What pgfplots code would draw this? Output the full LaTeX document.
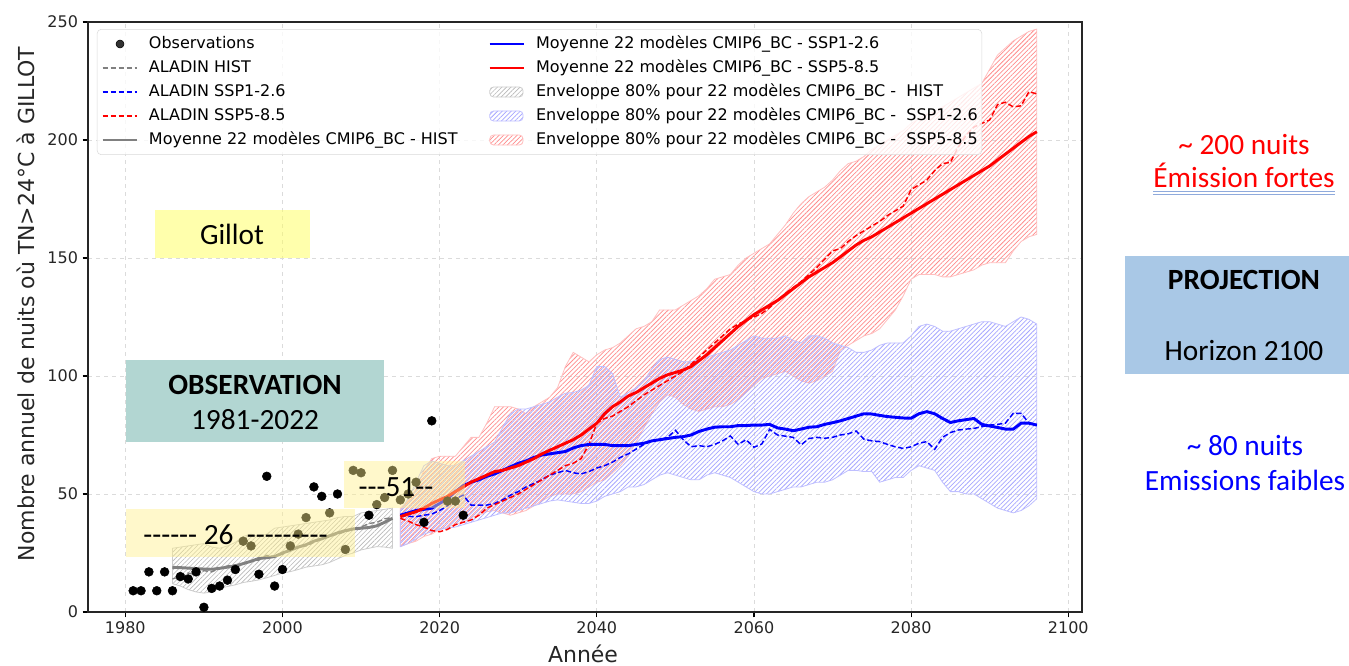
\documentclass[border=0pt]{standalone}
\usepackage{fontspec}
\setmainfont{DejaVu Sans}
\newfontfamily\calibri[Ligatures=TeXOff]{Carlito}
\usepackage{pgfplots}
\usepackage{pgfplotstable}
\pgfplotsset{compat=1.18}
\usepgfplotslibrary{fillbetween}
\usetikzlibrary{patterns.meta}

\definecolor{obsteal}{RGB}{178,214,210}
\definecolor{projblue}{RGB}{169,200,230}
\definecolor{boxyellow}{RGB}{255,240,140}
\definecolor{gillotyellow}{RGB}{255,255,90}
\definecolor{spellblue}{RGB}{143,170,220}

% historical run, 1986-2014
\pgfplotstableread{
yr   hm   hd   hu   hl
1986 18.9 14   27   12
1987 18.8 15   27.5 11
1988 18.6 16.5 28   9.5
1989 18.4 16   28.5 8.5
1990 18.2 17.5 29   8
1991 18.1 17   27.5 8.5
1992 18.5 18.5 27   10
1993 19   19.5 28   10.8
1994 19.5 20   29.5 11.5
1995 20.5 20.5 32   12.5
1996 21.5 21.5 33   13
1997 22.7 22   32   13.6
1998 23   24   33   14.5
1999 23.5 23.5 35.5 15.5
2000 25   24.5 36   16.5
2001 26.2 26   36.5 17.1
2002 27.5 27.5 37   18
2003 28.5 28   37.5 19
2004 30   29.5 38   19.5
2005 31   31   38.5 20
2006 32.3 32   39   21
2007 33.5 33   40   22.5
2008 34.5 34   40.5 24
2009 35.2 35   40.5 25
2010 35.5 36   42   26.3
2011 35.8 37.5 42.5 27
2012 36.5 38   43   27.7
2013 38   39.5 43.5 27.5
2014 39.7 40   44   27
}\hist

% scenarios, 2015-2096 (r = SSP5-8.5, b = SSP1-2.6)
\pgfplotstableread{
yr   rm    rd    ru  rl   bm   bd   bu   bl
2015 40.4  39.7  44  27.7 41   41   43   27.7
2016 41.5  38.5  47  29   42   40.5 48   29
2017 42.5  37    52  30   43   40.4 55   31
2018 44    36    60  32   43.5 41   62   33
2019 46    34.5  65  33   44   41.5 64   34
2020 47.5  34    66  35   46   43   63   35
2021 49    35    66  36   48   45   62   35.5
2022 51    37    66  37   51   48   62   36
2023 53    38    70  38   53.5 49.5 64   37
2024 55    39    74  40   55   45.3 66   38
2025 56.5  41    74  41   56   45.3 68   39
2026 58    44    80  42.5 57.5 45.3 70   40
2027 59.5  45.5  87  43   58.5 46   72   41
2028 60    47    87  42   60   47.5 78   42
2029 61    48.5  87  41   61.5 49.5 84   42
2030 62    50    86  42   63   51   86   43
2031 63.5  52    84  43   64   53   86   44
2032 65    54    87  45   65.5 54.5 87   45
2033 67    56    89  47   66.5 56   88   46
2034 68.5  58    91  49   67   58   89   47
2035 70    60    95  50   67.5 59   91   47.5
2036 71.5  62    104 50   68   60   92.7 47
2037 73    63    110 50   69.5 59   93   46.5
2038 75    65    108 51   70.5 58.5 94   46
2039 77.5  71    106 53   71   59.5 96   46
2040 80    80    109 55   71   61   104  47
2041 84    82    111 56   71   62   104  49
2042 87    83    112 59   70.5 63.5 101  50
2043 89    85    114 62   70.5 65.5 91   51
2044 91.5  87    117 66   70.5 67   93   53
2045 93    89.5  120 72   71   69   95   53
2046 95    92    121 78   71.5 71   98   54
2047 97    94    123 84   72.5 72.5 103  56
2048 99    96    128 89   73   73   107  58
2049 100.5 98    128 92   73.5 74   108  59
2050 101.5 100   128 91   74   77   107  58
2051 102.5 102   130 88   74.3 73   106  57
2052 104   105   132 86   75   70   106  56
2053 106.5 108   134 85   76.5 70.5 107  56
2054 109   111   137 86   77.5 70   108  58
2055 112   114   141 87   78.3 71   109  59
2056 115   117   142 87   78.5 72.5 110  58
2057 118   120   143 88   78.5 74.6 111  57
2058 121   122   147 90   79   71   113  55
2059 123.5 123.5 150 93   79   73   115  53
2060 126   125   152 96   79.2 69.8 117  51
2061 128   126.5 154 99   79.2 71.2 116  50
2062 130   129   156 100  79.5 77.4 116  50
2063 132   132   160 101  78   75   116  51
2064 134.5 135   164 102  77.5 74.5 117  52
2065 137   137.5 169 100  76.8 74   115  53
2066 139.5 140   173 98   77.5 70.8 114  53
2067 142   143   176 97   78.3 73.5 117  54
2068 144   146   178 98   78.5 74   117  55
2069 146   149.5 180 100  79.5 73.6 116  55
2070 148   153   183 102  80.2 74   114  56
2071 150.5 154   187 111  81   75   113  58
2072 153   157   190 113  82   75.5 112  60
2073 155.5 159.5 191 115  83   76.7 110  60
2074 157.5 161.5 193 117  84   73.2 110  59.5
2075 159   163.5 196 118  83.9 72.5 111  59.5
2076 161   165.5 198 120  83.3 72.2 113  55
2077 163   168   200 124  82.8 71   114  56
2078 165   170   202 128  82.5 70   114  57
2079 167   172   204 134  82.2 69.3 114  57
2080 169   179   207 141  82.1 70   117  60
2081 171   181   209 143  84   71.5 121  62
2082 173   183   211 143  84.9 72.2 122  61
2083 175   187   212 143  84   68.9 121  60
2084 177   190   214 142  82   74   119  55
2085 179   190.5 216 142  80.3 76   119  51
2086 181   197   218 143  81   77.1 120  51
2087 183   202   220 144  81.5 77.5 121  50
2088 185   205.5 222 145  82   77.8 122  50
2089 187   207   224 147  79.5 78.5 123  48
2090 189   208.5 230 148  78.8 79.2 123  46
2091 191.5 215   236 148  78.2 79.5 122  44
2092 194   216   239 148  77.5 80   121  43
2093 196.5 214   242 153  77.5 84.2 123  42
2094 199   214.5 244 157  80   84.2 125  43
2095 201.5 220.5 246 159  80   80   124  45
2096 203.5 219.5 247 160  79.2 79   122  48
}\ssp

\tikzset{
  henv/.style={draw=black!20, line width=0.6pt, pattern={Lines[angle=45,distance=2.4pt,line width=0.45pt]}, pattern color=black!28},
  renv/.style={draw=red!25, line width=0.6pt, pattern={Lines[angle=45,distance=2.4pt,line width=0.55pt]}, pattern color=red!45},
  benv/.style={draw=blue!25, line width=0.6pt, pattern={Lines[angle=45,distance=2.4pt,xshift=1.2pt,line width=0.55pt]}, pattern color=blue!35},
}

\begin{document}
\begin{tikzpicture}
\begin{axis}[
  at={(66pt,40.5pt)}, anchor=south west,
  scale only axis, width=745.5pt, height=442.5pt,
  xmin=1975.25, xmax=2101.75, ymin=0, ymax=250,
  xtick={1980,2000,...,2100}, ytick={0,50,...,250},
  tick align=outside, xtick pos=bottom, ytick pos=left,
  major tick length=4pt,
  every tick/.style={black, line width=0.9pt},
  axis line style={line width=1pt, black!85},
  grid=major, grid style={dashed, black!14, line width=0.6pt},
  /pgf/number format/1000 sep={},
  /pgf/number format/assume math mode=true,
  tick label style={font=\fontsize{12}{14}\selectfont, black!85},
  xlabel={Année},
  ylabel={Nombre annuel de nuits où TN>24°C à GILLOT},
  label style={font=\fontsize{16.5}{19}\selectfont, black!85},
  xlabel style={at={(rel axis cs:0.498,-0.056)}, anchor=north, inner sep=0pt},
  ylabel style={at={(rel axis cs:-0.0625,0.522)}, anchor=center, inner sep=0pt},
  legend columns=2, legend cell align=left,
  legend style={at={(rel axis cs:0.009,0.988)}, anchor=north west,
    draw=black!15, rounded corners=3pt, fill=white, fill opacity=0.8, text opacity=1,
    font=\fontsize{12}{14}\selectfont, inner xsep=3pt, inner ysep=5pt,
    row sep=6pt, nodes={inner sep=0pt, text height=9pt, text depth=3pt},
    /tikz/every even column/.append style={column sep=23pt}},
]
% envelopes
\addplot[name path=hu, draw=none, forget plot] table[x=yr, y=hu] {\hist};
\addplot[name path=hl, draw=none, forget plot] table[x=yr, y=hl] {\hist};
\addplot[henv, forget plot] fill between[of=hu and hl];
\addplot[name path=ru, draw=none, forget plot] table[x=yr, y=ru] {\ssp};
\addplot[name path=rl, draw=none, forget plot] table[x=yr, y=rl] {\ssp};
\addplot[renv, forget plot] fill between[of=ru and rl];
\addplot[name path=bu, draw=none, forget plot] table[x=yr, y=bu] {\ssp};
\addplot[name path=bl, draw=none, forget plot] table[x=yr, y=bl] {\ssp};
\addplot[benv, forget plot] fill between[of=bu and bl];

% ALADIN runs
\addplot[black!50, line width=1pt, dash pattern=on 4pt off 2pt, forget plot] table[x=yr, y=hd] {\hist};
\addplot[blue, line width=1.1pt, dash pattern=on 4pt off 2pt, forget plot] table[x=yr, y=bd] {\ssp};
\addplot[red, line width=1.1pt, dash pattern=on 4pt off 2pt, forget plot] table[x=yr, y=rd] {\ssp};

% multi-model means
\addplot[black!50, line width=2.2pt, forget plot] table[x=yr, y=hm] {\hist};
\addplot[blue, line width=2.2pt, forget plot] table[x=yr, y=bm] {\ssp};
\addplot[red, line width=2.2pt, forget plot] table[x=yr, y=rm] {\ssp};

% observations
\addplot[only marks, mark=*, mark size=3.3pt, black, forget plot] coordinates {
(1981,9)(1982,9)(1983,17)(1984,9)(1985,17)(1986,9)(1987,15)(1988,14)(1989,17)(1990,2)
(1991,10)(1992,11)(1993,13.5)(1994,18)(1995,30)(1996,28)(1997,16)(1998,57.5)(1999,11)(2000,18)
(2001,28)(2002,33)(2003,40)(2004,53)(2005,49)(2006,42)(2007,50)(2008,26.5)(2009,60)(2010,59)
(2011,41)(2012,45.5)(2013,48.5)(2014,60)(2015,47.5)(2016,50)(2017,55)(2018,38)(2019,81)
(2021,47)(2022,47)(2023,41)};

% legend, row by row (matplotlib fills it column by column)
\addlegendimage{legend image code/.code={\fill[black] (13pt,0) circle (3pt); \path (0,0) (34.5pt,0);}}
\addlegendentry{Observations}
\addlegendimage{legend image code/.code={\draw[blue, line width=2.2pt] (0,0) -- (26pt,0); \path (34.5pt,0);}}
\addlegendentry{Moyenne 22 modèles CMIP6\_BC - SSP1-2.6}
\addlegendimage{legend image code/.code={\draw[black!50, line width=1pt, dash pattern=on 4pt off 2pt] (0,0) -- (26pt,0); \path (34.5pt,0);}}
\addlegendentry{ALADIN HIST}
\addlegendimage{legend image code/.code={\draw[red, line width=2.2pt] (0,0) -- (26pt,0); \path (34.5pt,0);}}
\addlegendentry{Moyenne 22 modèles CMIP6\_BC - SSP5-8.5}
\addlegendimage{legend image code/.code={\draw[blue, line width=1.1pt, dash pattern=on 4pt off 2pt] (0,0) -- (26pt,0); \path (34.5pt,0);}}
\addlegendentry{ALADIN SSP1-2.6}
\addlegendimage{legend image code/.code={\draw[henv] (0,-3.8pt) rectangle (25pt,3.8pt); \path (34.5pt,0);}}
\addlegendentry{Enveloppe 80\% pour 22 modèles CMIP6\_BC -\ \ HIST}
\addlegendimage{legend image code/.code={\draw[red, line width=1.1pt, dash pattern=on 4pt off 2pt] (0,0) -- (26pt,0); \path (34.5pt,0);}}
\addlegendentry{ALADIN SSP5-8.5}
\addlegendimage{legend image code/.code={\draw[benv] (0,-3.8pt) rectangle (25pt,3.8pt); \path (34.5pt,0);}}
\addlegendentry{Enveloppe 80\% pour 22 modèles CMIP6\_BC -\ \ SSP1-2.6}
\addlegendimage{legend image code/.code={\draw[black!50, line width=2.2pt] (0,0) -- (26pt,0); \path (34.5pt,0);}}
\addlegendentry{Moyenne 22 modèles CMIP6\_BC - HIST}
\addlegendimage{legend image code/.code={\draw[renv] (0,-3.8pt) rectangle (25pt,3.8pt); \path (34.5pt,0);}}
\addlegendentry{Enveloppe 80\% pour 22 modèles CMIP6\_BC -\ \ SSP5-8.5}
\end{axis}

% slide annotations, placed in pixels of the 1349x666 slide (y downwards)
\begin{scope}[x=0.75pt, y=-0.75pt, yshift=499.5pt,
  every node/.style={font=\calibri\fontsize{22}{26}\selectfont, inner sep=0pt, anchor=base}]
\fill[gillotyellow, opacity=0.5] (155,210) rectangle (310,258);
\node at (232,245) {Gillot};
\fill[obsteal] (126,360) rectangle (384,442);
\node at (255,395) {\bfseries OBSERVATION};
\node at (255,430) {1981-2022};
\fill[boxyellow, opacity=0.45] (126,509) rectangle (355,557);
\node at (235.5,545) {------ 26\ \ ---------};
\fill[boxyellow, opacity=0.45] (344,461) rectangle (465,508);
\node at (396,497) {---51--};

\node[text=red] at (1244,155) {\textasciitilde{} 200 nuits};
\node[text=red] at (1244,188) {Émission fortes};
\draw[spellblue, line width=0.8pt] (1153,191.5) -- (1335,191.5) (1153,194.5) -- (1335,194.5);
\fill[projblue] (1125,256) rectangle (1349,374);
\node at (1244,290) {\bfseries PROJECTION};
\node at (1244,361) {Horizon 2100};
\node[text=blue] at (1245,456) {\textasciitilde{} 80 nuits};
\node[text=blue] at (1245,491) {Emissions faibles};
\end{scope}
\pgfresetboundingbox
\path[use as bounding box] (0,0) rectangle (1011.75pt,499.5pt);
\end{tikzpicture}
\end{document}
